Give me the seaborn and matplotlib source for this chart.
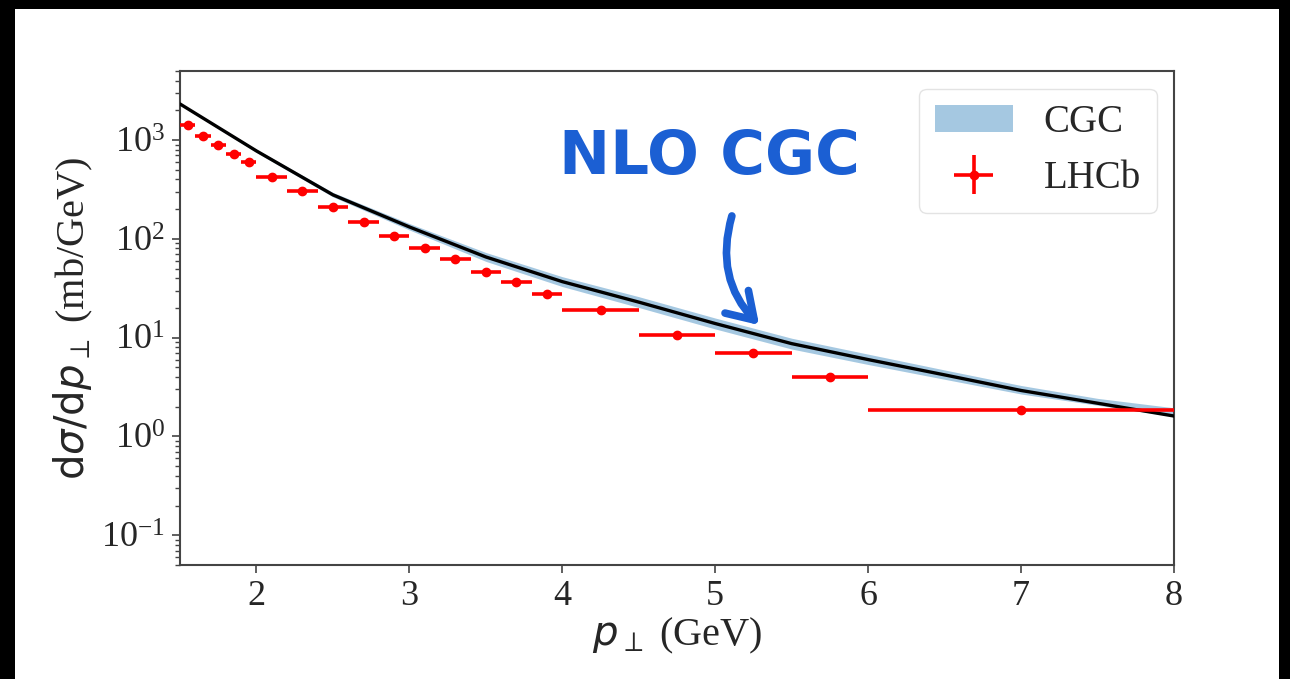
import numpy as np
import pandas as pd
import matplotlib
matplotlib.use("Agg")
import matplotlib.pyplot as plt
import seaborn as sns
from matplotlib.patches import Rectangle

# ---------------- data ----------------
cgc_pt = [1.5, 2.0, 2.5, 3.0, 3.5, 4.0, 4.5, 5.0, 5.5, 6.0, 6.5, 7.0, 7.5, 8.0]
cgc_central = [2320, 776, 279, 132, 65.6, 36.9, 22.9, 13.9, 8.7, 6.0, 4.2, 2.92, 2.17, 1.61]
cgc_low = [2268, 750, 266, 123, 59.2, 32.9, 20.2, 12.25, 7.67, 5.35, 3.79, 2.69, 2.07, 1.60]
cgc_high = [2373, 803, 295, 143, 72.8, 41.4, 26.0, 15.8, 9.87, 6.81, 4.71, 3.28, 2.43, 1.95]

lhcb_pt = [1.55, 1.65, 1.75, 1.85, 1.95, 2.1, 2.3, 2.5, 2.7, 2.9, 3.1, 3.3, 3.5,
           3.7, 3.9, 4.25, 4.75, 5.25, 5.75, 7.0]
lhcb_pt_err = [0.05, 0.05, 0.05, 0.05, 0.05, 0.1, 0.1, 0.1, 0.1, 0.1, 0.1, 0.1, 0.1,
               0.1, 0.1, 0.25, 0.25, 0.25, 0.25, 1.0]
lhcb_val = [1420, 1106, 890, 716, 594, 425, 305, 211, 149, 108, 80, 62, 46.4,
            37.0, 27.5, 19.2, 10.6, 6.95, 4.0, 1.85]
lhcb_val_err = [60, 45, 35, 28, 22, 15, 11, 8, 5.5, 4, 3, 2.3, 1.7,
                1.4, 1.0, 0.7, 0.4, 0.26, 0.15, 0.07]

x_ticks = [2, 3, 4, 5, 6, 7, 8]

# ---------------- style ----------------
sns.set_theme(style="ticks")
plt.rcParams["font.family"] = ["Liberation Serif", "DejaVu Serif"]
plt.rcParams["mathtext.fontset"] = "dejavusans"
plt.rcParams["font.size"] = 26
plt.rcParams["axes.edgecolor"] = "#444444"
plt.rcParams["axes.linewidth"] = 1.5

fig = plt.figure(figsize=(12.9, 6.79), dpi=100, facecolor="black")
fig.patches.append(Rectangle((15 / 1290, 0), (1279 - 15) / 1290, (679 - 9) / 679,
                             transform=fig.transFigure, facecolor="white",
                             edgecolor="none", zorder=-10))
ax = fig.add_axes([180 / 1290, (679 - 565) / 679, (1174 - 180) / 1290, (565 - 71) / 679])
ax.set_facecolor("white")

df = pd.DataFrame({"pt": cgc_pt, "val": cgc_central})

ax.fill_between(cgc_pt, cgc_low, cgc_high, color="tab:blue", alpha=0.4,
                linewidth=0, label="CGC", zorder=2)
sns.lineplot(data=df, x="pt", y="val", ax=ax, color="black", linewidth=2.4,
             zorder=3, legend=False)
ax.errorbar(lhcb_pt, lhcb_val, xerr=lhcb_pt_err, yerr=lhcb_val_err, fmt="o",
            color="red", ms=6, elinewidth=2.6, capsize=0, label="LHCb", zorder=4)

ax.set_yscale("log")
ax.set_xlim(1.5, 8)
ax.set_ylim(0.05, 5000)
ax.set_xticks(x_ticks)
ax.set_xticklabels([str(t) for t in x_ticks])
ax.tick_params(axis="both", which="major", labelsize=26, length=6, width=1.2,
               color="#444444", pad=5)
ax.tick_params(axis="y", which="minor", length=3.5, width=1.0, color="#444444")

ax.set_xlabel(r"$p_\perp$ (GeV)", fontsize=29, labelpad=2)
ax.set_ylabel(r"$\mathrm{d}\sigma/\mathrm{d}p_\perp$ (mb/GeV)", fontsize=29, labelpad=4)

leg = ax.legend(loc="upper right", fontsize=28, frameon=True, borderaxespad=0.45)
leg.get_frame().set_edgecolor("#dddddd")

# hand-written style annotation
blue = "#1b5fd3"
ax.text(0.533, 0.825, "NLO CGC", transform=ax.transAxes, ha="center", va="center",
        fontsize=44, fontweight="bold", color=blue, family="DejaVu Sans")
ax.annotate("", xy=(5.3, 12.8), xycoords="data",
            xytext=(0.556, 0.712), textcoords="axes fraction",
            arrowprops=dict(arrowstyle="->,head_length=0.7,head_width=0.45",
                            connectionstyle="arc3,rad=0.3", color=blue, lw=5.5))

fig.savefig("out.png", dpi=100, facecolor=fig.get_facecolor())
